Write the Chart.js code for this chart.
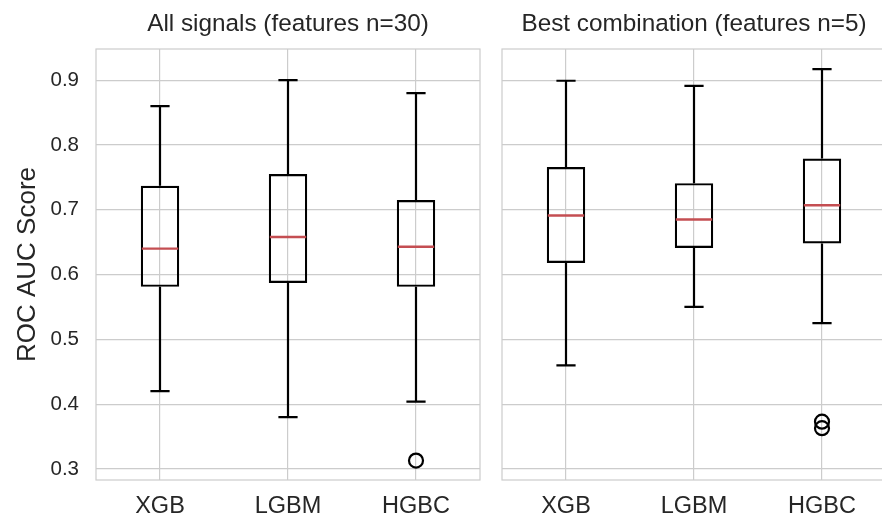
<!DOCTYPE html>
<html>
<head>
<meta charset="utf-8">
<script src="https://cdn.jsdelivr.net/npm/chart.js@4.4.0/dist/chart.umd.min.js"></script>
<style>
  html, body { margin: 0; padding: 0; background: #fff; overflow: hidden; width: 882px; height: 517px; }
  .panel { position: absolute; top: 0; height: 517px; }
</style>
</head>
<body>
<div class="panel" style="left:0;width:484px"><canvas id="allSignals"></canvas></div>
<div class="panel" style="left:484px;width:404px"><canvas id="bestCombo"></canvas></div>
<script>
// Box statistics per model (ROC AUC)
const models = ['XGB', 'LGBM', 'HGBC'];
const yTicks = [0.3, 0.4, 0.5, 0.6, 0.7, 0.8, 0.9];

const allMin = [0.420, 0.380, 0.404];
const allQ1 = [0.581, 0.587, 0.581];
const allMed = [0.640, 0.658, 0.643];
const allQ3 = [0.737, 0.755, 0.715];
const allMax = [0.860, 0.900, 0.880];
const allOutliers = [[], [], [0.313]];

const bestMin = [0.460, 0.550, 0.525];
const bestQ1 = [0.618, 0.641, 0.648];
const bestMed = [0.691, 0.685, 0.707];
const bestQ3 = [0.766, 0.741, 0.779];
const bestMax = [0.899, 0.891, 0.917];
const bestOutliers = [[], [], [0.373, 0.363]];

const FONT = '"Liberation Sans", Arial, sans-serif';
const TEXT = '#262626';
const GRID = '#cccccc';
const MEDIAN = '#c44e52';

// frame, whiskers, caps, median lines and the panel title
const boxPlugin = {
    id: 'boxWhiskers',
    beforeDatasetsDraw(chart) {
        const { ctx, chartArea: a } = chart;
        ctx.save();
        ctx.strokeStyle = GRID;
        ctx.lineWidth = 1.2;
        ctx.strokeRect(a.left, a.top, a.right - a.left, a.bottom - a.top);
        ctx.restore();
    },
    afterDatasetsDraw(chart, args, opts) {
        const { ctx, chartArea: a, scales: { x, y } } = chart;
        const meta = chart.getDatasetMeta(0);
        ctx.save();
        ctx.lineCap = 'butt';
        opts.min.forEach((lo, i) => {
            const bar = meta.data[i];
            const cx = x.getPixelForValue(i);
            const half = bar.width / 2;
            const cap = half / 2;
            const yLo = y.getPixelForValue(lo);
            const yHi = y.getPixelForValue(opts.max[i]);
            const yQ1 = y.getPixelForValue(opts.q1[i]);
            const yQ3 = y.getPixelForValue(opts.q3[i]);
            ctx.strokeStyle = '#000';
            ctx.lineWidth = 2.2;
            ctx.beginPath();
            ctx.moveTo(cx, yQ3); ctx.lineTo(cx, yHi);
            ctx.moveTo(cx - cap, yHi); ctx.lineTo(cx + cap, yHi);
            ctx.moveTo(cx, yQ1); ctx.lineTo(cx, yLo);
            ctx.moveTo(cx - cap, yLo); ctx.lineTo(cx + cap, yLo);
            ctx.stroke();
            const yMed = y.getPixelForValue(opts.med[i]);
            ctx.strokeStyle = MEDIAN;
            ctx.lineWidth = 2.4;
            ctx.beginPath();
            ctx.moveTo(cx - half + 1, yMed); ctx.lineTo(cx + half - 1, yMed);
            ctx.stroke();
        });

        ctx.fillStyle = TEXT;
        ctx.font = '24.3px ' + FONT;
        ctx.textAlign = 'center';
        ctx.textBaseline = 'middle';
        ctx.fillText(opts.title, (a.left + a.right) / 2, 24);
        ctx.restore();
    }
};

function makePanel(canvasId, stats, yWidth, padRight, showY) {
    const outlierPts = [];
    stats.outliers.forEach((list, i) => list.forEach(v => outlierPts.push({ x: models[i], y: v })));

    return new Chart(document.getElementById(canvasId), {
        type: 'bar',
        data: {
            labels: models,
            datasets: [
                {
                    data: stats.q1.map((v, i) => [v, stats.q3[i]]),
                    backgroundColor: 'rgba(0,0,0,0)',
                    borderColor: '#000',
                    borderWidth: 2.2,
                    borderSkipped: false,
                    barPercentage: 0.3,
                    categoryPercentage: 1
                },
                {
                    type: 'line',
                    data: outlierPts,
                    showLine: false,
                    pointStyle: 'circle',
                    pointRadius: 7,
                    pointBorderWidth: 2.2,
                    pointBorderColor: '#000',
                    pointBackgroundColor: 'rgba(0,0,0,0)'
                }
            ]
        },
        options: {
            responsive: true,
            maintainAspectRatio: false,
            animation: false,
            layout: { autoPadding: false, padding: { left: 0, right: padRight, top: 49, bottom: 0 } },
            plugins: {
                legend: { display: false },
                tooltip: { enabled: false },
                title: { display: false },
                boxWhiskers: stats
            },
            scales: {
                x: {
                    grid: { color: GRID, lineWidth: 1.2, offset: false, drawTicks: false },
                    border: { display: false },
                    ticks: { color: TEXT, font: { family: FONT, size: 23.5 }, padding: 12 },
                    afterFit: axis => { axis.height = 37; }
                },
                y: {
                    min: 0.283,
                    max: 0.948,
                    afterBuildTicks: axis => { axis.ticks = yTicks.map(v => ({ value: v })); },
                    grid: { color: GRID, lineWidth: 1.2, drawTicks: false },
                    border: { display: false },
                    ticks: {
                        display: showY,
                        color: TEXT,
                        padding: 17,
                        font: { family: FONT, size: 20.5 },
                        callback: v => v.toFixed(1)
                    },
                    title: {
                        display: showY,
                        text: 'ROC AUC Score',
                        color: TEXT,
                        font: { family: FONT, size: 26, lineHeight: 1.2 },
                        padding: { top: 12, bottom: 0 }
                    },
                    afterFit: axis => { axis.width = yWidth; }
                }
            }
        },
        plugins: [boxPlugin]
    });
}

makePanel('allSignals', {
    title: 'All signals (features n=30)',
    min: allMin, q1: allQ1, med: allMed, q3: allQ3, max: allMax, outliers: allOutliers
}, 96, 4, true);

makePanel('bestCombo', {
    title: 'Best combination (features n=5)',
    min: bestMin, q1: bestQ1, med: bestMed, q3: bestQ3, max: bestMax, outliers: bestOutliers
}, 18, 2, false);
</script>
</body>
</html>
